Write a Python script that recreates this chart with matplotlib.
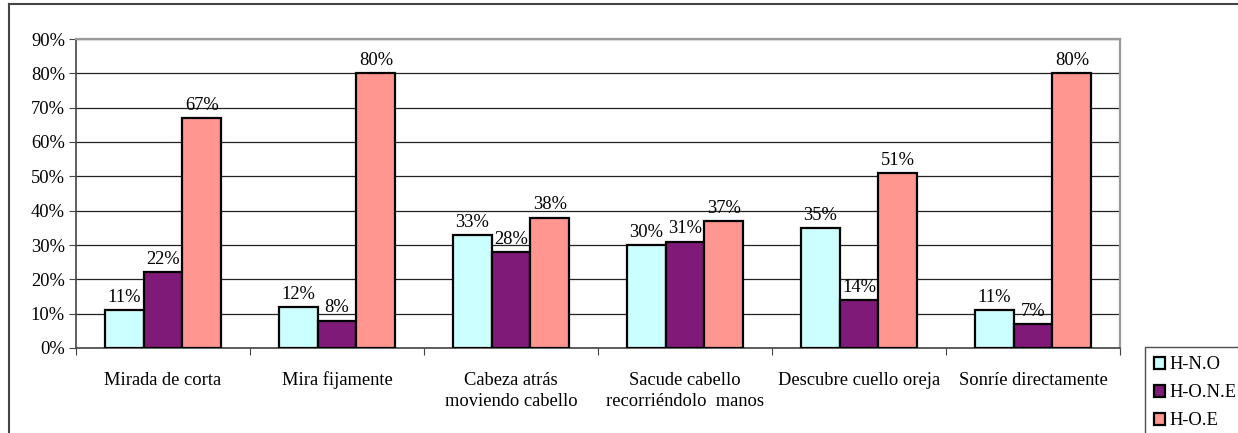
import matplotlib.pyplot as plt
import numpy as np
from matplotlib.lines import Line2D

plt.rcParams['font.family'] = ['Liberation Serif', 'DejaVu Serif']

categorias = ['Mirada de corta', 'Mira fijamente', 'Cabeza atrás\nmoviendo cabello',
              'Sacude cabello\nrecorriéndolo  manos', 'Descubre cuello oreja',
              'Sonríe directamente']
series = ['H-N.O', 'H-O.N.E', 'H-O.E']
h_no = [11, 12, 33, 30, 35, 11]
h_one = [22, 8, 28, 31, 14, 7]
h_oe = [67, 80, 38, 37, 51, 80]
colores = ['#CCFFFF', '#7F1A78', '#FF9690']

W, H = 1238, 433
fs = 13.3
fig = plt.figure(figsize=(W / 100, H / 100), dpi=100)
ax = fig.add_axes([76 / W, 1 - 348 / H, (1120 - 76) / W, (348 - 39) / H])

x = np.arange(len(categorias))
bw = 0.224
for k, (vals, col, nom) in enumerate(zip([h_no, h_one, h_oe], colores, series)):
    pos = x + (k - 1) * bw
    ax.bar(pos, vals, bw, color=col, edgecolor='black', linewidth=1.6, label=nom, zorder=3)
    for p, v in zip(pos, vals):
        ax.text(p, v + 1.2, '{0}%'.format(v), ha='center', va='bottom', fontsize=fs, zorder=4)

ax.set_xlim(-0.5, len(categorias) - 0.5)
ax.set_ylim(0, 90)
ax.set_yticks(np.arange(0, 91, 10))
ax.set_yticklabels(['{0}%'.format(v) for v in range(0, 91, 10)], fontsize=fs)
ax.yaxis.grid(True, color='#222222', linewidth=0.9, zorder=0)

ax.set_xticks(np.arange(-0.5, len(categorias), 1.0))
ax.set_xticklabels([])
ax.set_xticks(x, minor=True)
ax.set_xticklabels(categorias, minor=True, fontsize=fs, linespacing=1.35)
ax.tick_params(axis='x', which='minor', length=0, pad=17)
ax.tick_params(axis='x', which='major', length=5, direction='out', color='#444444')
ax.tick_params(axis='y', length=5, direction='out', color='#444444', pad=3)

for s in ['top', 'right']:
    ax.spines[s].set_color('#9a9a9a')
    ax.spines[s].set_linewidth(1.6)
for s in ['left', 'bottom']:
    ax.spines[s].set_color('#444444')
    ax.spines[s].set_linewidth(1.2)

# marco exterior
fig.add_artist(Line2D([9 / W, 1], [1 - 4 / H, 1 - 4 / H], color='#444444', linewidth=1.5))
fig.add_artist(Line2D([9 / W, 9 / W], [0, 1 - 4 / H], color='#444444', linewidth=1.5))

leg = fig.legend(loc='upper left', bbox_to_anchor=(1145 / W, 1 - 347 / H), fontsize=fs,
                 frameon=True, fancybox=False, handlelength=0.6, handleheight=0.6,
                 handletextpad=0.2, labelspacing=0.6, borderpad=0.5, borderaxespad=0)
leg.get_frame().set_edgecolor('#222222')
leg.get_frame().set_linewidth(1.0)

plt.savefig('out.png', dpi=100)
